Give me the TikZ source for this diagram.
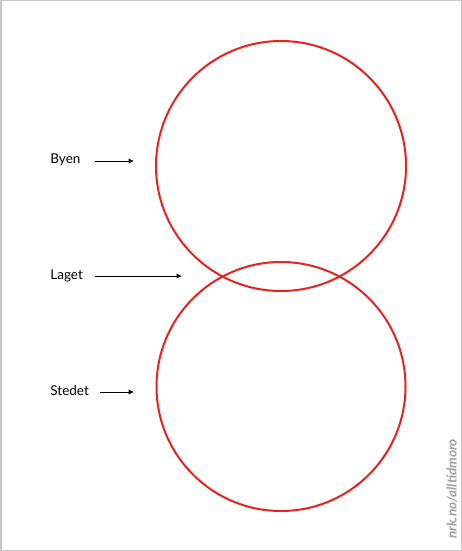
\documentclass[tikz,border=0pt]{standalone}
\usepackage{fontspec}
\setmainfont{Lato}
\usetikzlibrary{arrows.meta}
\begin{document}
\begin{tikzpicture}[x=1pt,y=-1pt,
        thick,ring/.style={draw={rgb,255:red,230;green,35;blue,30},line width=2pt},
        label node/.style={font=\fontsize{13.5}{15}\selectfont,anchor=west,inner sep=0pt}]
      \draw[draw={rgb,255:red,200;green,200;blue,200},line width=1.5pt,fill=white] (0.75,0.75) rectangle (461.25,550.25);
      \useasboundingbox (0,0) rectangle (462,551);
      % the two circles
      \draw[ring] (281,166) circle (125);
      \draw[ring] (281,386.5) circle (124.5);
      % labels
      \node[label node] (Byen)   at (50,160) {Byen};
      \node[label node] (Laget)  at (50,276) {Laget};
      \node[label node] (Stedet) at (50,391) {Stedet};
      \coordinate (byen start)   at (95,161);
      \coordinate (laget start)  at (95,276);
      \coordinate (stedet start) at (100,392);
      \coordinate (byen end)   at (134,161);
      \coordinate (laget end)  at (182,276);
      \coordinate (stedet end) at (134,392);
           \path[every edge/.style={draw,line width=1pt,-{Latex[length=5.5pt,width=5.5pt]}}]
           (byen start)   edge (byen end)
           (laget start)  edge (laget end)
           (stedet start) edge (stedet end);
      \node[font=\bfseries\itshape\fontsize{13.5}{15}\selectfont,text={rgb,255:red,160;green,160;blue,160},rotate=90,anchor=center,inner sep=0pt] (nrk) at (452,489) {nrk.no/alltidmoro};
    \end{tikzpicture}
\end{document}
